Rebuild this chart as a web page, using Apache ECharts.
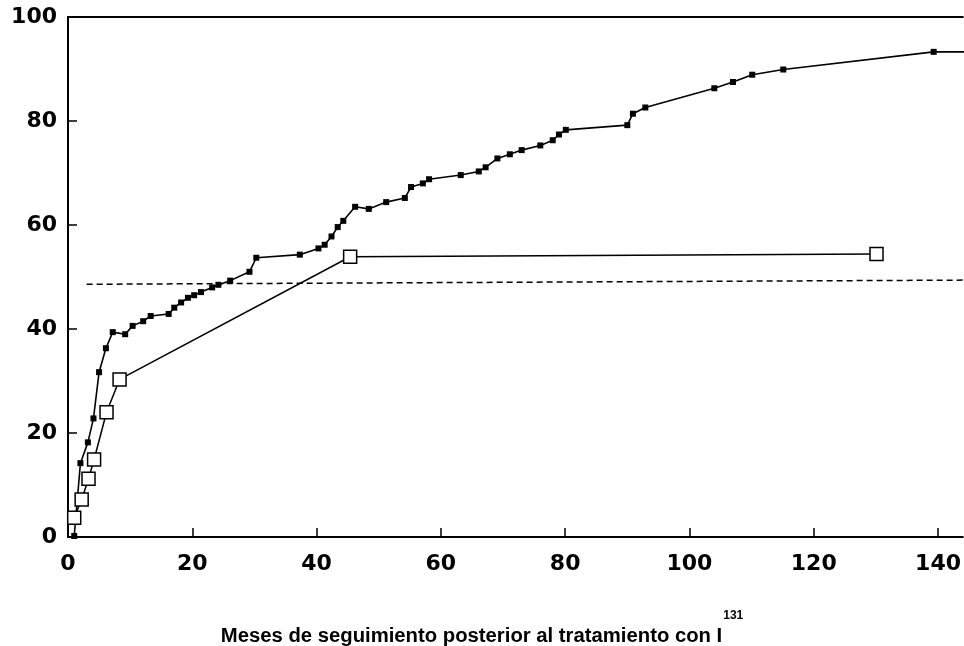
<!DOCTYPE html>
<html>
<head>
<meta charset="utf-8">
<style>
  html, body { margin: 0; padding: 0; background: #fff; }
  #chart { width: 964px; height: 646px; }
</style>
<script src="https://cdn.jsdelivr.net/npm/echarts@6/dist/echarts.min.js"></script>
</head>
<body>
<div id="chart"></div>
<script>
// Months of follow-up (x) and cumulative percentage (y), filled-marker series
const monthsA = [1, 2, 3.2, 4.1, 5, 6.1, 7.2, 9.2, 10.4, 12.1, 13.3, 16.2, 17.1, 18.2, 19.3, 20.3, 21.4, 23.2, 24.2, 26.1,
  29.2, 30.3, 37.3, 40.3, 41.3, 42.4, 43.4, 44.3, 46.2, 48.4, 51.2, 54.2, 55.2, 57.1, 58.1, 63.2, 66.1, 67.2, 69.1, 71.1,
  73.0, 76.0, 78.0, 79.0, 80.1, 90.0, 90.9, 92.9, 104.0, 107.0, 110.1, 115.1, 139.3, 146];
const valuesA = [0.2, 14.2, 18.2, 22.8, 31.7, 36.3, 39.4, 39.0, 40.6, 41.5, 42.5, 42.9, 44.1, 45.1, 46.0, 46.5, 47.1, 48.0, 48.5, 49.3,
  51.0, 53.7, 54.3, 55.5, 56.2, 57.8, 59.6, 60.8, 63.5, 63.1, 64.4, 65.2, 67.3, 68.0, 68.8, 69.6, 70.3, 71.1, 72.8, 73.6,
  74.4, 75.3, 76.3, 77.4, 78.3, 79.2, 81.4, 82.6, 86.3, 87.5, 88.9, 89.9, 93.3, 93.3];

// Open-square series
const monthsB = [1, 2.2, 3.3, 4.2, 6.2, 8.3, 45.4, 130.1];
const valuesB = [3.7, 7.2, 11.2, 14.9, 24.0, 30.3, 53.9, 54.4];

// Dashed reference line
const monthsRef = [3, 144];
const valuesRef = [48.6, 49.4];

const xTicks = [0, 20, 40, 60, 80, 100, 120, 140];
const yTicks = [0, 20, 40, 60, 80, 100];

const titleText = 'Meses de seguimiento posterior al tratamiento con I';
const titleSup = '131';

const pair = (xs, ys) => xs.map((x, i) => [x, ys[i]]);

const labelFont = {
  fontFamily: 'DejaVu Sans',
  fontWeight: 'bold',
  fontSize: 22,
  color: '#000'
};

const chart = echarts.init(document.getElementById('chart'), null, { renderer: 'canvas' });

chart.setOption({
  animation: false,
  backgroundColor: '#fff',
  grid: { left: 68, right: 0, top: 17, bottom: 109, containLabel: false },
  title: {
    left: 'center',
    top: 610,
    padding: 0,
    text: '{a|' + titleText + '}{s|' + titleSup + '}',
    textStyle: {
      rich: {
        a: { fontFamily: 'Liberation Sans', fontWeight: 'bold', fontSize: 20.3, color: '#000', lineHeight: 36, verticalAlign: 'bottom' },
        s: { fontFamily: 'Liberation Sans', fontWeight: 'bold', fontSize: 12, color: '#000', lineHeight: 12, verticalAlign: 'top', padding: [0, 0, 0, 1] }
      }
    }
  },
  xAxis: [
    {
      type: 'value',
      min: 0,
      max: 144,
      interval: 20,
      splitLine: { show: false },
      axisLine: { show: true, onZero: false, lineStyle: { color: '#000', width: 2 } },
      axisTick: { show: true, inside: true, length: 9, lineStyle: { color: '#000', width: 1.5 },
        customValues: xTicks },
      axisLabel: Object.assign({ margin: 16, customValues: xTicks,
        formatter: v => (xTicks.indexOf(v) >= 0 ? String(v) : '') }, labelFont)
    },
    {
      type: 'value',
      position: 'top',
      min: 0,
      max: 144,
      splitLine: { show: false },
      axisLine: { show: true, onZero: false, lineStyle: { color: '#000', width: 2 } },
      axisTick: { show: false },
      axisLabel: { show: false }
    }
  ],
  yAxis: {
    type: 'value',
    min: 0,
    max: 100,
    interval: 20,
    splitLine: { show: false },
    axisLine: { show: true, onZero: false, lineStyle: { color: '#000', width: 2 } },
    axisTick: { show: true, inside: true, length: 9, lineStyle: { color: '#000', width: 1.5 } },
    axisLabel: Object.assign({ margin: 11 }, labelFont)
  },
  series: [
    {
      type: 'line',
      data: pair(monthsRef, valuesRef),
      symbol: 'none',
      lineStyle: { color: '#000', width: 1.5, type: [6, 4] },
      z: 1
    },
    {
      type: 'line',
      data: pair(monthsB, valuesB),
      symbol: 'rect',
      symbolSize: 13,
      showAllSymbol: true,
      itemStyle: { color: '#fff', borderColor: '#000', borderWidth: 1.5 },
      lineStyle: { color: '#000', width: 1.5 },
      z: 3
    },
    {
      type: 'line',
      data: pair(monthsA, valuesA),
      symbol: 'rect',
      symbolSize: 6,
      showAllSymbol: true,
      clip: true,
      itemStyle: { color: '#000' },
      lineStyle: { color: '#000', width: 1.6 },
      z: 2
    }
  ]
});
</script>
</body>
</html>
